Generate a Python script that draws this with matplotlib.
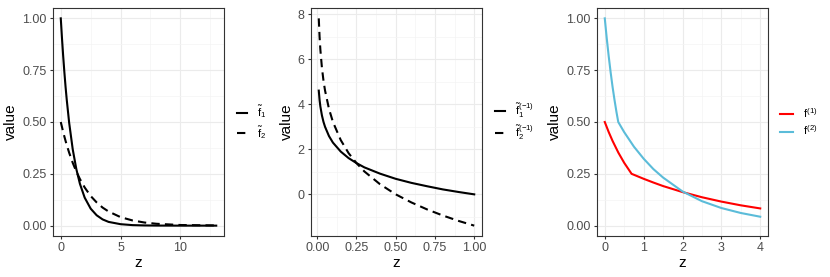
import matplotlib.pyplot as plt
from matplotlib.ticker import AutoMinorLocator

plt.rcParams['font.family'] = ['Liberation Sans', 'DejaVu Sans']
plt.rcParams['mathtext.fontset'] = 'custom'
plt.rcParams['mathtext.rm'] = 'Liberation Sans'
plt.rcParams['mathtext.it'] = 'Liberation Sans'
plt.rcParams['mathtext.bf'] = 'Liberation Sans:bold'

# panel 1: densities
z1 = [0, 0.1, 0.2, 0.3, 0.4, 0.5, 0.7, 1.0, 1.3, 1.6, 2.0, 2.5, 3.0, 3.5, 4.0, 5.0, 6.0, 7.0, 8.0, 10.0, 13.0]
f1_tilde = [1.0, 0.905, 0.819, 0.741, 0.670, 0.607, 0.497, 0.368, 0.273, 0.202, 0.135, 0.082, 0.050,
            0.030, 0.018, 0.007, 0.0025, 0.001, 0.0003, 0.0, 0.0]
f2_tilde = [0.5, 0.476, 0.452, 0.430, 0.409, 0.389, 0.352, 0.303, 0.261, 0.225, 0.184, 0.143, 0.112,
            0.087, 0.068, 0.041, 0.025, 0.015, 0.009, 0.003, 0.001]

# panel 2: inverses
z2 = [0.01, 0.015, 0.02, 0.03, 0.04, 0.05, 0.075, 0.1, 0.15, 0.2, 0.25, 0.3, 0.4, 0.5, 0.6, 0.7, 0.8, 0.9, 1.0]
f1_inv = [4.61, 4.20, 3.91, 3.51, 3.22, 3.00, 2.59, 2.30, 1.90, 1.61, 1.39, 1.20, 0.92, 0.69, 0.51,
          0.36, 0.22, 0.105, 0.0]
f2_inv = [7.82, 7.01, 6.44, 5.63, 5.05, 4.61, 3.80, 3.22, 2.41, 1.83, 1.39, 1.02, 0.45, 0.0, -0.36,
          -0.67, -0.94, -1.18, -1.39]

# panel 3
z3_red = [0, 0.1, 0.2, 0.35, 0.5, 0.69, 1.0, 1.25, 1.5, 2.0, 2.5, 3.0, 3.5, 4.0]
f_1 = [0.5, 0.452, 0.409, 0.352, 0.303, 0.25, 0.226, 0.208, 0.191, 0.162, 0.137, 0.116, 0.098, 0.083]
z3_blue = [0, 0.05, 0.1, 0.15, 0.2, 0.25, 0.3, 0.347, 0.5, 0.75, 1.0, 1.25, 1.5, 2.0, 2.5, 3.0, 3.5, 4.0]
f_2 = [1.0, 0.905, 0.819, 0.741, 0.670, 0.607, 0.549, 0.5, 0.451, 0.381, 0.323, 0.273, 0.232, 0.165,
       0.118, 0.085, 0.061, 0.043]

W, H = 830, 277
fig = plt.figure(figsize=(W / 100, H / 100), dpi=100)


def panel(x0, x1, y0=8, y1=236):
    ax = fig.add_axes([x0 / W, 1 - y1 / H, (x1 - x0) / W, (y1 - y0) / H])
    ax.grid(True, which='major', color='#EBEBEB', lw=0.8)
    ax.grid(True, which='minor', color='#F4F4F4', lw=0.5)
    ax.set_axisbelow(True)
    ax.xaxis.set_minor_locator(AutoMinorLocator(2))
    ax.yaxis.set_minor_locator(AutoMinorLocator(2))
    for s in ax.spines.values():
        s.set_color('#333333')
        s.set_linewidth(0.8)
    ax.tick_params(which='major', length=2.5, color='#333333', labelsize=9, labelcolor='#4D4D4D', pad=2)
    ax.tick_params(which='minor', length=0)
    ax.set_xlabel('z', fontsize=11, labelpad=1)
    ax.set_ylabel('value', fontsize=11, labelpad=3)
    return ax


def expand(lo, hi):
    d = (hi - lo) * 0.05
    return lo - d, hi + d


leg_kw = dict(loc='center left', frameon=False, fontsize=8, handletextpad=0.9, labelspacing=0.3)

ax1 = panel(53, 224)
ax1.plot(z1, f1_tilde, color='black', lw=1.5, label=r'$\tilde{f}_1$')
ax1.plot(z1, f2_tilde, color='black', lw=1.5, ls=(0, (4, 2.5)), label=r'$\tilde{f}_2$')
ax1.set_xlim(*expand(0, 13))
ax1.set_ylim(*expand(0, 1))
ax1.set_xticks([0, 5, 10])
ax1.set_yticks([0, 0.25, 0.5, 0.75, 1.0])
ax1.set_yticklabels(['0.00', '0.25', '0.50', '0.75', '1.00'])
ax1.legend(bbox_to_anchor=(1.02, 0.5), handlelength=0.9, **leg_kw)

ax2 = panel(311, 482)
ax2.plot(z2, f1_inv, color='black', lw=1.5, label=r'$\tilde{f}_1^{(-1)}$')
ax2.plot(z2, f2_inv, color='black', lw=1.5, ls=(0, (4, 2.5)), label=r'$\tilde{f}_2^{(-1)}$')
ax2.set_xlim(*expand(0.01, 1.0))
ax2.set_ylim(*expand(-1.39, 7.82))
ax2.set_xticks([0, 0.25, 0.5, 0.75, 1.0])
ax2.set_xticklabels(['0.00', '0.25', '0.50', '0.75', '1.00'])
ax2.set_yticks([0, 2, 4, 6, 8])
ax2.legend(bbox_to_anchor=(1.02, 0.5), handlelength=0.9, **leg_kw)

ax3 = panel(597, 768)
ax3.plot(z3_red, f_1, color='#FF0000', lw=1.5, label=r'$f^{(1)}$')
ax3.plot(z3_blue, f_2, color='#5BBCD9', lw=1.5, label=r'$f^{(2)}$')
ax3.set_xlim(*expand(0, 4))
ax3.set_ylim(*expand(0, 1))
ax3.set_xticks([0, 1, 2, 3, 4])
ax3.set_yticks([0, 0.25, 0.5, 0.75, 1.0])
ax3.set_yticklabels(['0.00', '0.25', '0.50', '0.75', '1.00'])
ax3.legend(bbox_to_anchor=(1.01, 0.5), handlelength=1.2, **leg_kw)

fig.savefig('out.png', dpi=100)
